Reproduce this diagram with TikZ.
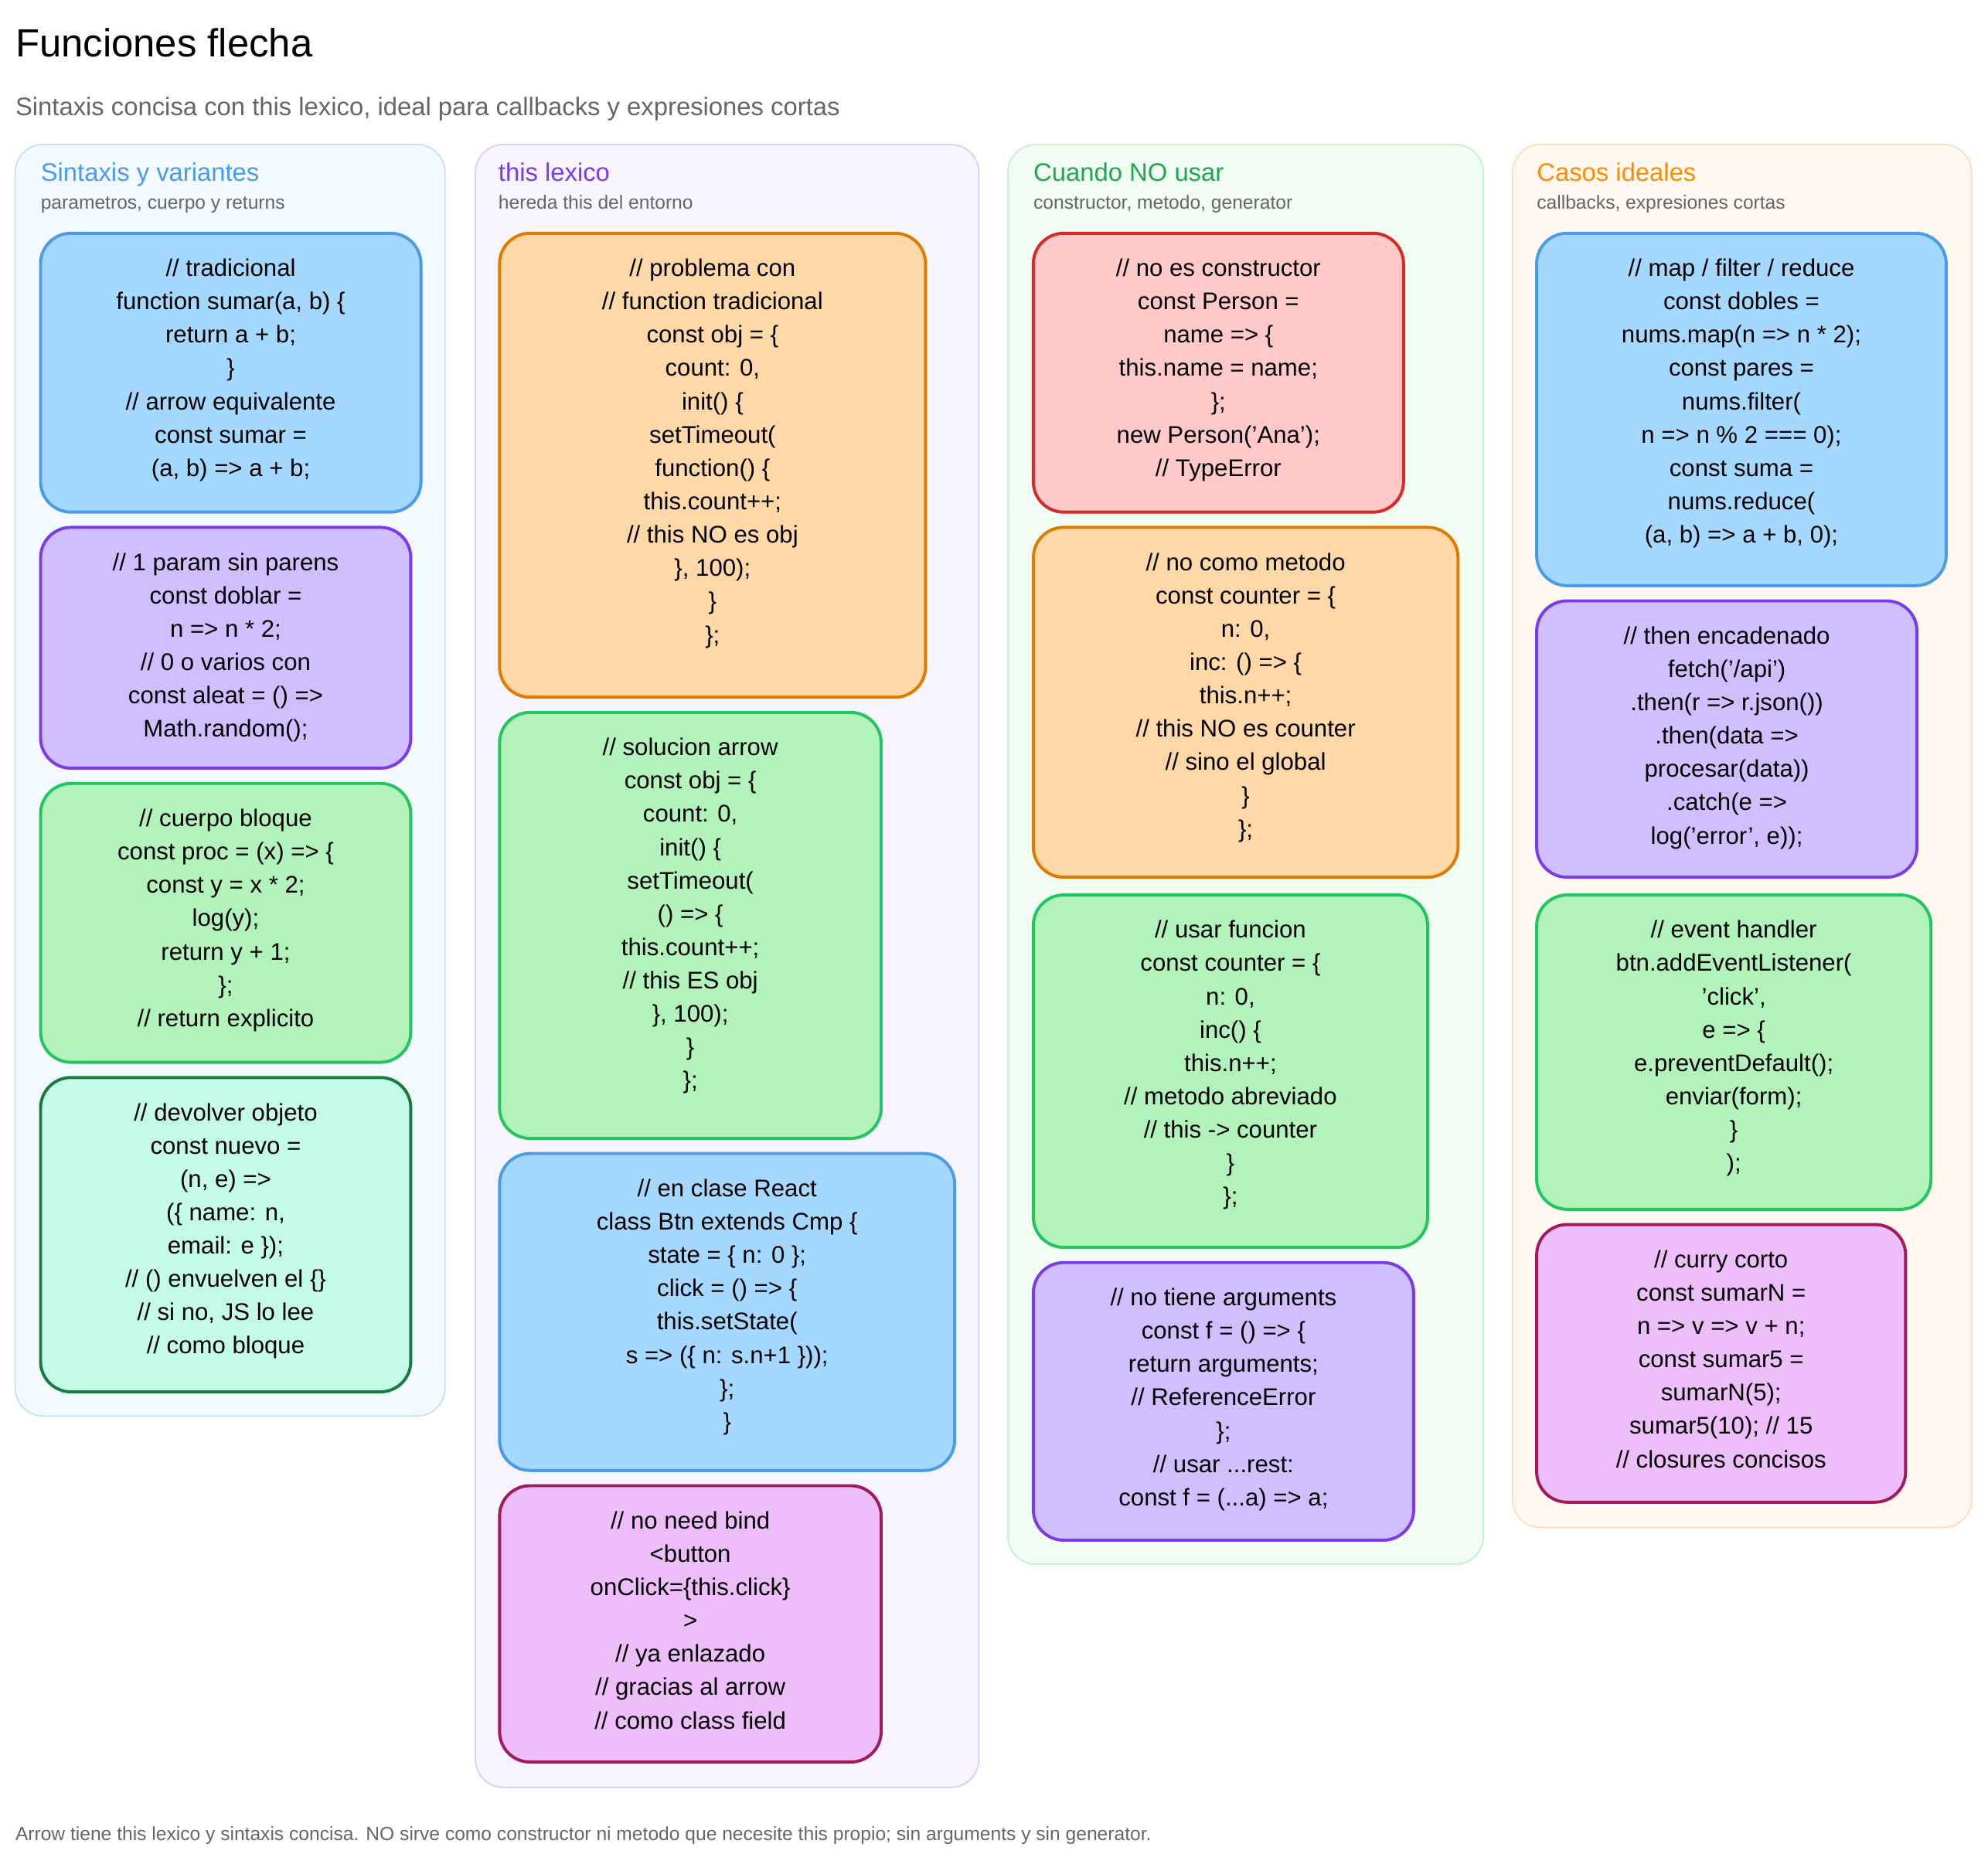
\documentclass[tikz,border=0pt]{standalone}
\usepackage{fontspec}
\setmainfont{Liberation Sans}
\usepackage{tikz}
\definecolor{bluefill}{HTML}{A5D8FF}\definecolor{bluedraw}{HTML}{4A9BE8}
\definecolor{purpfill}{HTML}{D0BFFF}\definecolor{purpdraw}{HTML}{7C3AED}
\definecolor{greenfill}{HTML}{B2F2BB}\definecolor{greendraw}{HTML}{22C55E}
\definecolor{tealfill}{HTML}{C3FAE8}\definecolor{tealdraw}{HTML}{1B7A3D}
\definecolor{orangefill}{HTML}{FFD8A8}\definecolor{orangedraw}{HTML}{E07B00}
\definecolor{pinkfill}{HTML}{EEBEFA}\definecolor{pinkdraw}{HTML}{A3195B}
\definecolor{redfill}{HTML}{FFC9C9}\definecolor{reddraw}{HTML}{D42A2A}
\definecolor{graytext}{HTML}{666666}
\tikzset{
  lane/.style={rounded corners=22pt, line width=1.2pt},
  card/.style={rounded corners=24pt, line width=2.4pt},
  code/.style={anchor=north, align=center, inner sep=0pt,
    font=\fontsize{19}{26.3}\selectfont},
  lanetitle/.style={anchor=base west, inner sep=0pt, font=\fontsize{20}{24}\selectfont},
  lanesub/.style={anchor=base west, inner sep=0pt, text=graytext, font=\fontsize{15}{18}\selectfont},
  bluecard/.style={card, fill=bluefill, draw=bluedraw},
  purpcard/.style={card, fill=purpfill, draw=purpdraw},
  greencard/.style={card, fill=greenfill, draw=greendraw},
  tealcard/.style={card, fill=tealfill, draw=tealdraw},
  orangecard/.style={card, fill=orangefill, draw=orangedraw},
  pinkcard/.style={card, fill=pinkfill, draw=pinkdraw},
  redcard/.style={card, fill=redfill, draw=reddraw},
}
% card: name, x1, y1, x2, y2, style, text
\newcommand{\codecard}[7]{%
  \draw[#6] (#2,#3) rectangle (#4,#5);
  \node[code] (#1) at ({(#2+#4)/2},#3+20) {#7};}
\begin{document}
\begin{tikzpicture}[x=1pt, y=-1pt]
  \useasboundingbox (0,0) rectangle (1568,1470);
  \fill[white] (0,0) rectangle (1568,1470);

  % Header
  \node[anchor=base west, inner sep=0pt, font=\fontsize{31}{36}\selectfont] (title) at (12,45) {Funciones flecha};
  \node[anchor=base west, inner sep=0pt, text=graytext, font=\fontsize{20}{24}\selectfont] (subtitle) at (12,91)
    {Sintaxis concisa con this lexico, ideal para callbacks y expresiones cortas};

  % Lanes
  \draw[lane, fill=bluefill!15, draw=bluedraw!30] (12,114) rectangle (351,1117);
  \draw[lane, fill=purpfill!15, draw=purpdraw!25] (375,114) rectangle (772,1410);
  \draw[lane, fill=greenfill!18, draw=greendraw!25] (795,114) rectangle (1170,1234);
  \draw[lane, fill=orange!5, draw=orange!25] (1193,114) rectangle (1555,1205);

  \node[lanetitle, text=bluedraw] (syntax) at (32,143) {Sintaxis y variantes};
  \node[lanesub] (syntaxsub) at (32,165) {parametros, cuerpo y returns};
  \node[lanetitle, text=purpdraw] (lexical) at (393,143) {this lexico};
  \node[lanesub] (lexicalsub) at (393,165) {hereda this del entorno};
  \node[lanetitle, text=greendraw!85!black] (avoid) at (815,143) {Cuando NO usar};
  \node[lanesub] (avoidsub) at (815,165) {constructor, metodo, generator};
  \node[lanetitle, text=orange!90!yellow] (ideal) at (1212,143) {Casos ideales};
  \node[lanesub] (idealsub) at (1212,165) {callbacks, expresiones cortas};

  % Column 1
  \codecard{classic}{32}{184}{332}{404}{bluecard}{// tradicional\\function sumar(a, b) \{\\return a + b;\\\}\\// arrow equivalente\\const sumar =\\(a, b) => a + b;}
  \codecard{oneparam}{32}{416}{324}{606}{purpcard}{// 1 param sin parens\\const doblar =\\n => n * 2;\\// 0 o varios con\\const aleat = () =>\\Math.random();}
  \codecard{block}{32}{618}{324}{838}{greencard}{// cuerpo bloque\\const proc = (x) => \{\\const y = x * 2;\\log(y);\\return y + 1;\\\};\\// return explicito}
  \codecard{object}{32}{850}{324}{1098}{tealcard}{// devolver objeto\\const nuevo =\\(n, e) =>\\(\{ name: n,\\email: e \});\\// () envuelven el \{\}\\// si no, JS lo lee\\// como bloque}

  % Column 2
  \codecard{problem}{394}{184}{730}{550}{orangecard}{// problema con\\// function tradicional\\const obj = \{\\count: 0,\\init() \{\\setTimeout(\\function() \{\\this.count++;\\// this NO es obj\\\}, 100);\\\}\\\};}
  \codecard{solution}{394}{562}{695}{898}{greencard}{// solucion arrow\\const obj = \{\\count: 0,\\init() \{\\setTimeout(\\() => \{\\this.count++;\\// this ES obj\\\}, 100);\\\}\\\};}
  \codecard{react}{394}{910}{753}{1160}{bluecard}{// en clase React\\class Btn extends Cmp \{\\state = \{ n: 0 \};\\click = () => \{\\this.setState(\\s => (\{ n: s.n+1 \}));\\\};\\\}}
  \codecard{nobind}{394}{1172}{695}{1390}{pinkcard}{// no need bind\\<button\\onClick=\{this.click\}\\>\\// ya enlazado\\// gracias al arrow\\// como class field}

  % Column 3
  \codecard{ctor}{815}{184}{1107}{404}{redcard}{// no es constructor\\const Person =\\name => \{\\this.name = name;\\\};\\new Person('Ana');\\// TypeError}
  \codecard{method}{815}{416}{1150}{692}{orangecard}{// no como metodo\\const counter = \{\\n: 0,\\inc: () => \{\\this.n++;\\// this NO es counter\\// sino el global\\\}\\\};}
  \codecard{shorthand}{815}{706}{1126}{984}{greencard}{// usar funcion\\const counter = \{\\n: 0,\\inc() \{\\this.n++;\\// metodo abreviado\\// this -> counter\\\}\\\};}
  \codecard{noargs}{815}{996}{1115}{1215}{purpcard}{// no tiene arguments\\const f = () => \{\\return arguments;\\// ReferenceError\\\};\\// usar ...rest:\\const f = (...a) => a;}

  % Column 4
  \codecard{mapping}{1212}{184}{1535}{462}{bluecard}{// map / filter / reduce\\const dobles =\\nums.map(n => n * 2);\\const pares =\\nums.filter(\\n => n \% 2 === 0);\\const suma =\\nums.reduce(\\(a, b) => a + b, 0);}
  \codecard{chain}{1212}{474}{1512}{692}{purpcard}{// then encadenado\\fetch('/api')\\.then(r => r.json())\\.then(data =>\\procesar(data))\\.catch(e =>\\log('error', e));}
  \codecard{handler}{1212}{706}{1523}{954}{greencard}{// event handler\\btn.addEventListener(\\'click',\\e => \{\\e.preventDefault();\\enviar(form);\\\}\\);}
  \codecard{curry}{1212}{966}{1503}{1185}{pinkcard}{// curry corto\\const sumarN =\\n => v => v + n;\\const sumar5 =\\sumarN(5);\\sumar5(10); // 15\\// closures concisos}

  % Footer
  \node[anchor=base west, inner sep=0pt, text=graytext, font=\fontsize{15}{18}\selectfont] (footer) at (12,1452)
    {Arrow tiene this lexico y sintaxis concisa. NO sirve como constructor ni metodo que necesite this propio; sin arguments y sin generator.};
\end{tikzpicture}
\end{document}
